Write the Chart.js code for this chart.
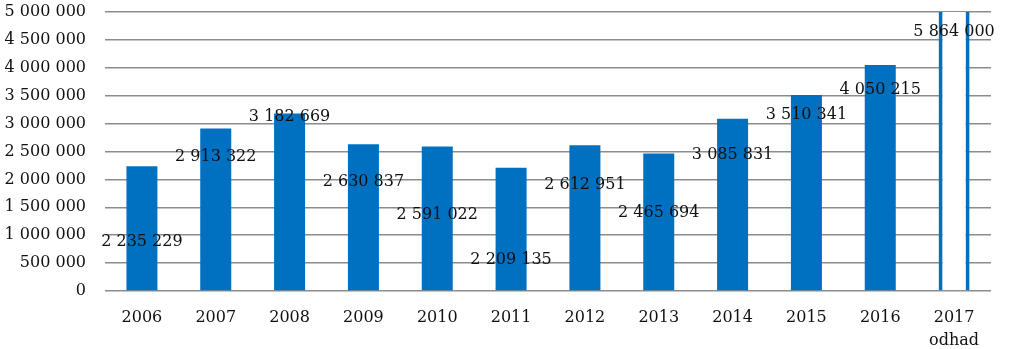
<!DOCTYPE html>
<html>
<head>
<meta charset="utf-8">
<script src="https://cdn.jsdelivr.net/npm/chart.js@4"></script>
<style>
  html, body { margin: 0; padding: 0; background: #fff; }
  #wrap { width: 1024px; height: 349px; }
</style>
</head>
<body>
<div id="wrap"><canvas id="chart"></canvas></div>
<script>
// Data
const years = ['2006', '2007', '2008', '2009', '2010', '2011', '2012', '2013', '2014', '2015', '2016', ['2017', 'odhad']];
const visitors = [2235229, 2913322, 3182669, 2630837, 2591022, 2209135, 2612951, 2465694, 3085831, 3510341, 4050215, 5864000];
// where each data label sits, in axis units
const labelAt = [880000, 2400000, 3120000, 1950000, 1360000, 560000, 1900000, 1400000, 2440000, 3150000, 3600000, 4640000];

const blue = '#0070C0';
const serif = 'DejaVu Serif';

function fmt(v) {
  return String(v).replace(/\B(?=(\d{3})+(?!\d))/g, ' ');
}

// Popisky hodnot
const valueLabels = {
  id: 'valueLabels',
  afterDatasetsDraw(chart) {
    const ctx = chart.ctx;
    const xs = chart.scales.x;
    const ys = chart.scales.y;
    ctx.save();
    ctx.font = '16px "' + serif + '"';
    ctx.fillStyle = '#111';
    ctx.textAlign = 'center';
    ctx.textBaseline = 'middle';
    visitors.forEach(function (v, i) {
      ctx.fillText(fmt(v), xs.getPixelForValue(i), ys.getPixelForValue(labelAt[i]));
    });
    ctx.restore();
  }
};

const last = visitors.length - 1;

new Chart(document.getElementById('chart'), {
  type: 'bar',
  data: {
    labels: years,
    datasets: [{
      data: visitors,
      backgroundColor: visitors.map((v, i) => i === last ? '#ffffff' : blue),
      borderColor: blue,
      borderWidth: visitors.map((v, i) => i === last ? 4 : 0),
      barPercentage: 0.42,
      categoryPercentage: 1
    }]
  },
  options: {
    responsive: true,
    maintainAspectRatio: false,
    animation: false,
    layout: { padding: { top: 12, right: 33, left: 0, bottom: 0 } },
    plugins: {
      legend: { display: false },
      tooltip: { enabled: false }
    },
    scales: {
      x: {
        grid: { display: false, drawTicks: false },
        border: { display: false },
        ticks: {
          color: '#111',
          font: { family: serif, size: 16, lineHeight: 1.44 },
          padding: 15,
          maxRotation: 0,
          autoSkip: false
        },
        afterFit(scale) {
          scale.height = 58;
          scale.paddingTop = 0;
          scale.paddingBottom = 0;
        }
      },
      y: {
        min: 0,
        max: 5000000,
        grid: { color: '#8c8c8c', lineWidth: 1.5, drawTicks: false },
        border: { display: false },
        ticks: {
          stepSize: 500000,
          color: '#111',
          font: { family: serif, size: 16 },
          padding: 19,
          callback: (v) => fmt(v)
        },
        afterFit(scale) {
          scale.width = 105;
          scale.paddingTop = 0;
          scale.paddingBottom = 0;
        }
      }
    }
  },
  plugins: [valueLabels]
});
</script>
</body>
</html>
